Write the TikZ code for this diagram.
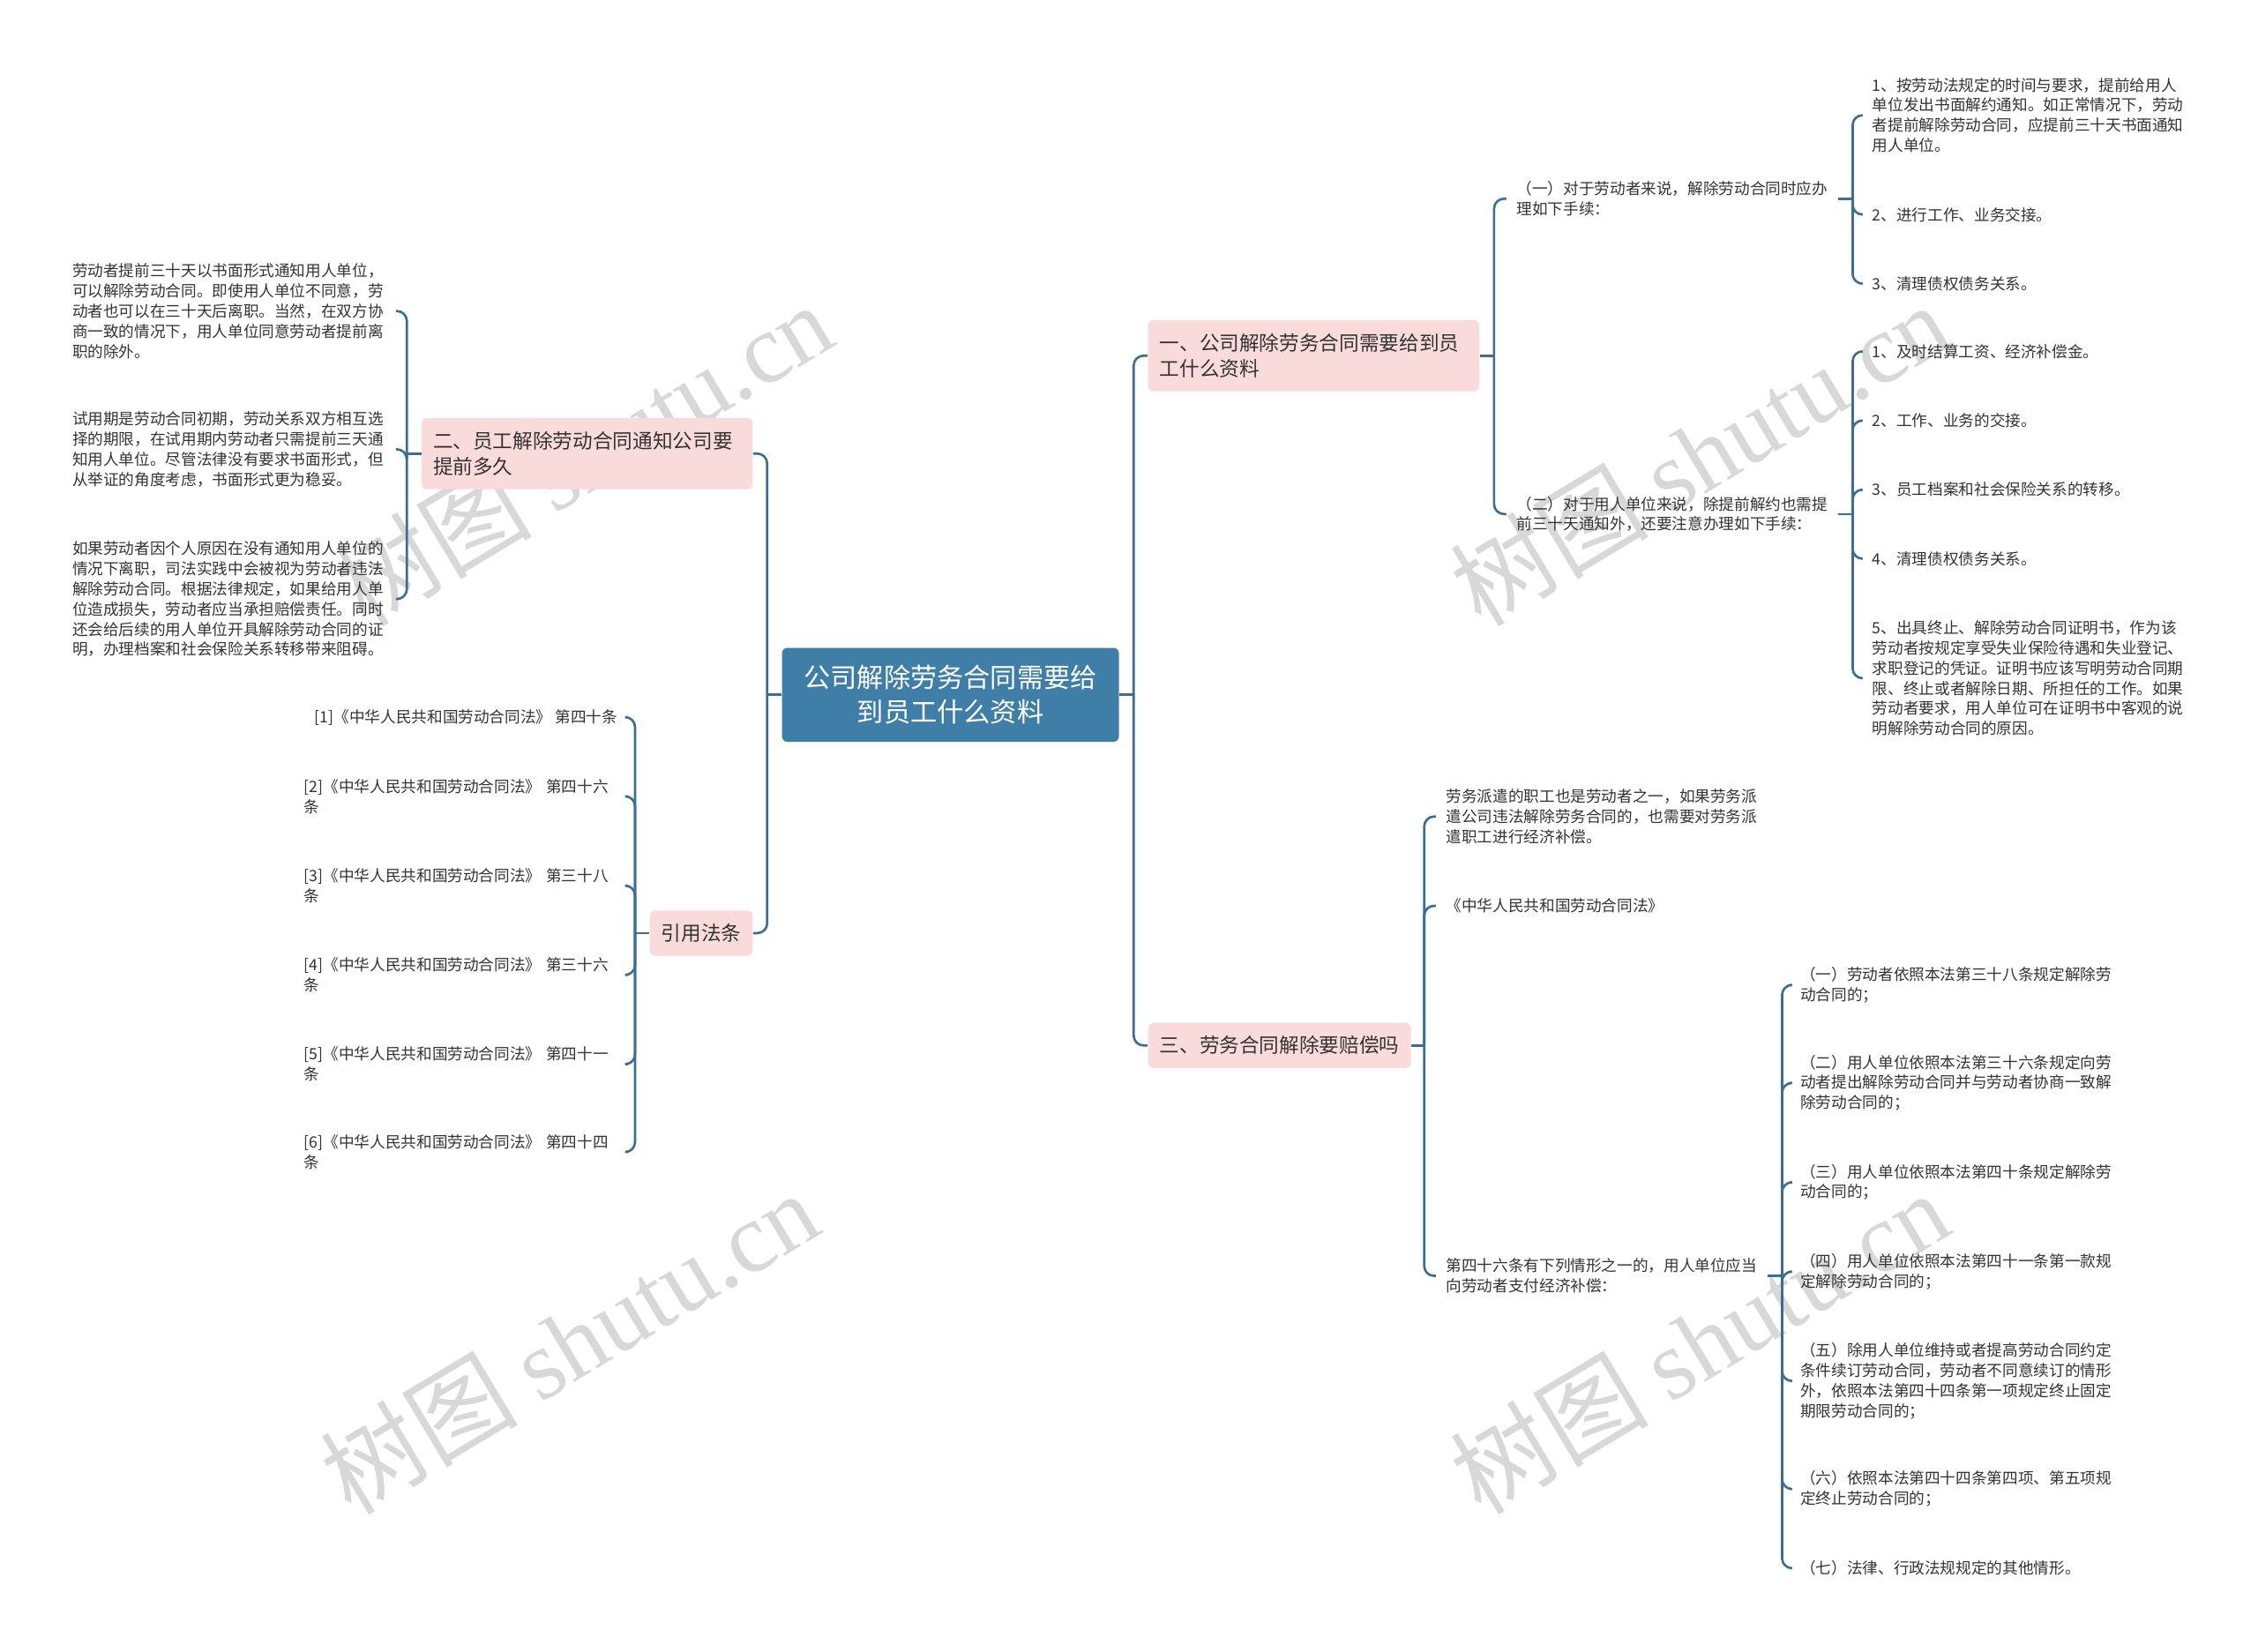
\documentclass[tikz,border=0pt]{standalone}
\usepackage{fontspec}
\newfontfamily\cjk{Noto Sans CJK SC}
\newfontfamily\wmlatin{Liberation Serif}
\usetikzlibrary{calc}
\definecolor{linec}{HTML}{3B6E95}
\definecolor{rootc}{HTML}{3F7EA6}
\definecolor{pinkc}{HTML}{FADBDB}
\definecolor{txtc}{HTML}{333333}
\definecolor{wmc}{HTML}{D8D8D8}
\begin{document}
\begin{tikzpicture}[x=0.8pt,y=-0.8pt,
  rootbox/.style={fill=rootc, rounded corners=3pt, text=white,
    font={\cjk\fontsize{14.8}{19.2}\selectfont}, align=center,
    text width=163.2pt, inner xsep=12pt, inner ysep=9.6pt},
  l1box/.style={fill=pinkc, rounded corners=3pt, text=txtc,
    font={\cjk\fontsize{11.1}{14.4}\selectfont}, align=left,
    inner xsep=6.4pt, inner ysep=7.4pt},
  leaf/.style={text=txtc, font={\cjk\fontsize{8.64}{11.2}\selectfont},
    align=left, inner xsep=5.6pt, inner ysep=2pt},
  wleaf/.style={leaf, text width=174pt},
  conn/.style={draw=linec, line width=1.3pt, rounded corners=5.5pt},
  wm/.style={text=wmc, rotate=31, font={\cjk\fontsize{55}{58}\selectfont}, inner sep=0pt}
]
\useasboundingbox (0,0) rectangle (1568,1147);
\fill[white] (0,0) rectangle (1568,1147);

% watermarks
\node[wm] (wm1) at (405,315) {树图 {\wmlatin shutu.cn}};
\node[wm] (wm2) at (395,932) {树图 {\wmlatin shutu.cn}};
\node[wm] (wm3) at (1180,315) {树图 {\wmlatin shutu.cn}};
\node[wm] (wm4) at (1180,932) {树图 {\wmlatin shutu.cn}};

% root and level 1
\node[rootbox] (root) at (660,482.5) {公司解除劳务合同需要给\\到员工什么资料};
\node[l1box, anchor=west, text width=171.2pt] (r1) at (797,247) {一、公司解除劳务合同需要给到员\\工什么资料};
\node[l1box, anchor=west] (r3) at (797,726) {三、劳务合同解除要赔偿吗};
\node[l1box, anchor=east, text width=171.2pt] (l2) at (523,315) {二、员工解除劳动合同通知公司要\\提前多久};
\node[l1box, anchor=east] (l4) at (523,648) {引用法条};

% branch 1
\node[leaf, anchor=west] (r1a) at (1046,138) {（一）对于劳动者来说，解除劳动合同时应办\\理如下手续：};
\node[leaf, anchor=west] (r1b) at (1046,357) {（二）对于用人单位来说，除提前解约也需提\\前三十天通知外，还要注意办理如下手续：};
\node[leaf, anchor=west] (r1a1) at (1293,80) {1、按劳动法规定的时间与要求，提前给用人\\单位发出书面解约通知。如正常情况下，劳动\\者提前解除劳动合同，应提前三十天书面通知\\用人单位。};
\node[leaf, anchor=west] (r1a2) at (1293,149) {2、进行工作、业务交接。};
\node[leaf, anchor=west] (r1a3) at (1293,197) {3、清理债权债务关系。};
\node[leaf, anchor=west] (r1b1) at (1293,244) {1、及时结算工资、经济补偿金。};
\node[leaf, anchor=west] (r1b2) at (1293,292) {2、工作、业务的交接。};
\node[leaf, anchor=west] (r1b3) at (1293,340) {3、员工档案和社会保险关系的转移。};
\node[leaf, anchor=west] (r1b4) at (1293,388) {4、清理债权债务关系。};
\node[leaf, anchor=west] (r1b5) at (1293,471) {5、出具终止、解除劳动合同证明书，作为该\\劳动者按规定享受失业保险待遇和失业登记、\\求职登记的凭证。证明书应该写明劳动合同期\\限、终止或者解除日期、所担任的工作。如果\\劳动者要求，用人单位可在证明书中客观的说\\明解除劳动合同的原因。};

% branch 3
\node[leaf, anchor=west] (r3a) at (997,567) {劳务派遣的职工也是劳动者之一，如果劳务派\\遣公司违法解除劳务合同的，也需要对劳务派\\遣职工进行经济补偿。};
\node[leaf, anchor=west] (r3b) at (997,629) {《中华人民共和国劳动合同法》};
\node[leaf, anchor=west] (r3c) at (997,886) {第四十六条有下列情形之一的，用人单位应当\\向劳动者支付经济补偿：};
\node[leaf, anchor=west] (r3c1) at (1243,684) {（一）劳动者依照本法第三十八条规定解除劳\\动合同的；};
\node[leaf, anchor=west] (r3c2) at (1243,752) {（二）用人单位依照本法第三十六条规定向劳\\动者提出解除劳动合同并与劳动者协商一致解\\除劳动合同的；};
\node[leaf, anchor=west] (r3c3) at (1243,821) {（三）用人单位依照本法第四十条规定解除劳\\动合同的；};
\node[leaf, anchor=west] (r3c4) at (1243,883) {（四）用人单位依照本法第四十一条第一款规\\定解除劳动合同的；};
\node[leaf, anchor=west] (r3c5) at (1243,959) {（五）除用人单位维持或者提高劳动合同约定\\条件续订劳动合同，劳动者不同意续订的情形\\外，依照本法第四十四条第一项规定终止固定\\期限劳动合同的；};
\node[leaf, anchor=west] (r3c6) at (1243,1034) {（六）依照本法第四十四条第四项、第五项规\\定终止劳动合同的；};
\node[leaf, anchor=west] (r3c7) at (1243,1089) {（七）法律、行政法规规定的其他情形。};

% branch 2 (left)
\node[wleaf, anchor=east] (l2a) at (275,216) {劳动者提前三十天以书面形式通知用人单位，\\可以解除劳动合同。即使用人单位不同意，劳\\动者也可以在三十天后离职。当然，在双方协\\商一致的情况下，用人单位同意劳动者提前离\\职的除外。};
\node[wleaf, anchor=east] (l2b) at (275,312) {试用期是劳动合同初期，劳动关系双方相互选\\择的期限，在试用期内劳动者只需提前三天通\\知用人单位。尽管法律没有要求书面形式，但\\从举证的角度考虑，书面形式更为稳妥。};
\node[wleaf, anchor=east] (l2c) at (275,416) {如果劳动者因个人原因在没有通知用人单位的\\情况下离职，司法实践中会被视为劳动者违法\\解除劳动合同。根据法律规定，如果给用人单\\位造成损失，劳动者应当承担赔偿责任。同时\\还会给后续的用人单位开具解除劳动合同的证\\明，办理档案和社会保险关系转移带来阻碍。};

% branch 4 (left)
\node[leaf, anchor=east] (l4a) at (436,498) {[1]《中华人民共和国劳动合同法》 第四十条};
\node[wleaf, anchor=east] (l4b) at (436,553) {[2]《中华人民共和国劳动合同法》 第四十六\\条};
\node[wleaf, anchor=east] (l4c) at (436,615) {[3]《中华人民共和国劳动合同法》 第三十八\\条};
\node[wleaf, anchor=east] (l4d) at (436,677) {[4]《中华人民共和国劳动合同法》 第三十六\\条};
\node[wleaf, anchor=east] (l4e) at (436,739) {[5]《中华人民共和国劳动合同法》 第四十一\\条};
\node[wleaf, anchor=east] (l4f) at (436,800) {[6]《中华人民共和国劳动合同法》 第四十四\\条};

% trunk points
\coordinate (tR) at ($(root.east)+(10,0)$);
\coordinate (tL) at ($(root.west)+(-10,0)$);
\coordinate (t1) at ($(r1.east)+(10,0)$);
\coordinate (t3) at ($(r3.east)+(9,0)$);
\coordinate (t1a) at ($(r1a.east)+(10,0)$);
\coordinate (t1b) at ($(r1b.east)+(10,0)$);
\coordinate (t3c) at ($(r3c.east)+(10,0)$);
\coordinate (t2) at ($(l2.west)+(-10,0)$);
\coordinate (t4) at ($(l4.west)+(-10,0)$);

% connectors
\draw[conn] (root.east) -- (tR);
\draw[conn] (tR) |- (r1.west);
\draw[conn] (tR) |- (r3.west);
\draw[conn] (root.west) -- (tL);
\draw[conn] (tL) |- (l2.east);
\draw[conn] (tL) |- (l4.east);

\draw[conn] (r1.east) -- (t1);
\draw[conn] (t1) |- (r1a.west);
\draw[conn] (t1) |- (r1b.west);
\draw[conn] (r1a.east) -- (t1a);
\draw[conn] (t1a) |- (r1a1.west);
\draw[conn] (t1a) |- (r1a2.west);
\draw[conn] (t1a) |- (r1a3.west);
\draw[conn] (r1b.east) -- (t1b);
\draw[conn] (t1b) |- (r1b1.west);
\draw[conn] (t1b) |- (r1b2.west);
\draw[conn] (t1b) |- (r1b3.west);
\draw[conn] (t1b) |- (r1b4.west);
\draw[conn] (t1b) |- (r1b5.west);

\draw[conn] (r3.east) -- (t3);
\draw[conn] (t3) |- (r3a.west);
\draw[conn] (t3) |- (r3b.west);
\draw[conn] (t3) |- (r3c.west);
\draw[conn] (r3c.east) -- (t3c);
\draw[conn] (t3c) |- (r3c1.west);
\draw[conn] (t3c) |- (r3c2.west);
\draw[conn] (t3c) |- (r3c3.west);
\draw[conn] (t3c) |- (r3c4.west);
\draw[conn] (t3c) |- (r3c5.west);
\draw[conn] (t3c) |- (r3c6.west);
\draw[conn] (t3c) |- (r3c7.west);

\draw[conn] (l2.west) -- (t2);
\draw[conn] (t2) |- (l2a.east);
\draw[conn] (t2) |- (l2b.east);
\draw[conn] (t2) |- (l2c.east);

\draw[conn] (l4.west) -- (t4);
\draw[conn] (t4) |- (l4a.east);
\draw[conn] (t4) |- (l4b.east);
\draw[conn] (t4) |- (l4c.east);
\draw[conn] (t4) |- (l4d.east);
\draw[conn] (t4) |- (l4e.east);
\draw[conn] (t4) |- (l4f.east);
\end{tikzpicture}
\end{document}
